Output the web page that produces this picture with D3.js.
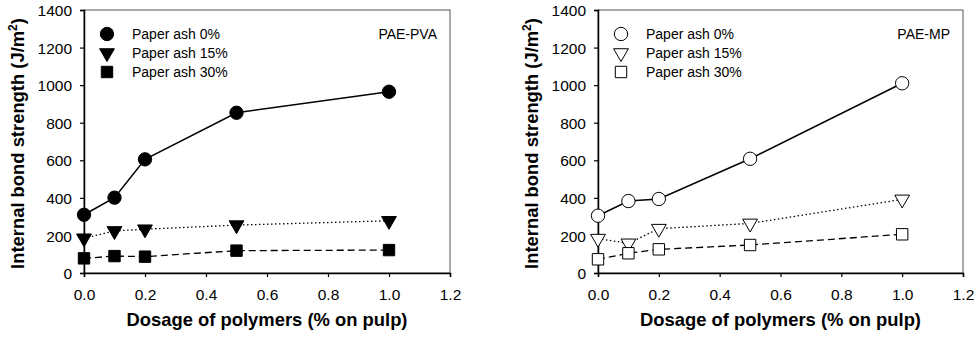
<!DOCTYPE html>
<html>
<head>
<meta charset="utf-8">
<script src="https://cdn.jsdelivr.net/npm/d3@7"></script>
<style>
  body { margin: 0; background: #fff; }
  svg text { font-family: "Liberation Sans", Arial, sans-serif; fill: #000; }
</style>
</head>
<body>
<div id="chart"></div>
<script>
// dosage of polymers (% on pulp)
const dosage = [0, 0.1, 0.2, 0.5, 1.0]
const seriesNames = ['Paper ash 0%', 'Paper ash 15%', 'Paper ash 30%']
const xTicks = [0, 0.2, 0.4, 0.6, 0.8, 1.0, 1.2]
const yTicks = [0, 200, 400, 600, 800, 1000, 1200, 1400]

// PAE-PVA
const pvaAsh0 = [310, 401, 605, 853, 965]
const pvaAsh15 = [185, 224, 233, 255, 278]
const pvaAsh30 = [78, 90, 87, 119, 122]

// PAE-MP
const mpAsh0 = [305, 383, 394, 608, 1010]
const mpAsh15 = [183, 158, 236, 264, 392]
const mpAsh30 = [73, 105, 126, 149, 206]

const width = 979, height = 339
const svg = d3.select('#chart').append('svg')
	.attr('width', width)
	.attr('height', height)

const dashes = [null, '1.5,2.5', '7,4']
const symbols = [d3.symbolCircle, d3.symbolTriangle, d3.symbolSquare]
const symSize = [140, 95, 130]

function drawPanel (left, right, label, series, filled) {
	const top = 10, bottom = 273
	const x = d3.scaleLinear().domain([0, 1.2]).range([left, right])
	const y = d3.scaleLinear().domain([0, 1400]).range([bottom, top])
	const g = svg.append('g')

	// frame
	g.append('rect')
		.attr('x', left).attr('y', top)
		.attr('width', right - left).attr('height', bottom - top)
		.attr('fill', 'none').attr('stroke', '#555').attr('stroke-width', 1)

	// axes
	const xAxis = g.append('g')
		.attr('transform', 'translate(0,' + bottom + ')')
		.call(d3.axisBottom(x).tickValues(xTicks).tickFormat(d3.format('.1f')).tickSize(4).tickPadding(12))
	const yAxis = g.append('g')
		.attr('transform', 'translate(' + left + ',0)')
		.call(d3.axisLeft(y).tickValues(yTicks).tickFormat(d3.format('d')).tickSize(4).tickPadding(8))
	for (const a of [xAxis, yAxis]) {
		a.select('.domain').attr('stroke', '#000').attr('stroke-width', 1.5)
		a.selectAll('.tick line').attr('stroke', '#000').attr('stroke-width', 1.2)
		a.selectAll('.tick text').attr('font-size', '15.5px').attr('fill', '#000')
			.attr('font-family', '"Liberation Sans", Arial, sans-serif')
	}
	yAxis.selectAll('.tick text').attr('dy', '0.36em')

	// axis titles
	g.append('text')
		.attr('x', (left + right) / 2).attr('y', 326)
		.attr('text-anchor', 'middle')
		.attr('font-size', '18.4px').attr('font-weight', 'bold')
		.text('Dosage of polymers (% on pulp)')
	const yt = g.append('text')
		.attr('transform', 'translate(' + (left - 60) + ',' + ((top + bottom) / 2 + 2) + ') rotate(-90)')
		.attr('text-anchor', 'middle')
		.attr('font-size', '18.4px').attr('font-weight', 'bold')
	yt.append('tspan').text('Internal bond strength (J/m')
	yt.append('tspan').attr('font-size', '12px').attr('dy', '-7').text('2')
	yt.append('tspan').attr('dy', '7').text(')')

	g.append('text')
		.attr('x', right - 13).attr('y', 39)
		.attr('text-anchor', 'end')
		.attr('font-size', '14px')
		.text(label)

	// lines + markers
	const line = d3.line().x((d) => x(d[0])).y((d) => y(d[1]))
	series.forEach((vals, i) => {
		const pts = dosage.map((d, j) => [d, vals[j]])
		g.append('path')
			.attr('d', line(pts))
			.attr('fill', 'none')
			.attr('stroke', '#000')
			.attr('stroke-width', i === 0 ? 1.5 : 1.3)
			.attr('stroke-dasharray', dashes[i])
		g.selectAll('.m' + i)
			.data(pts)
			.enter().append('path')
			.attr('transform', (d) => 'translate(' + x(d[0]) + ',' + y(d[1]) + ')' + (i === 1 ? ' rotate(180)' : ''))
			.attr('d', d3.symbol().type(symbols[i]).size(symSize[i]))
			.attr('fill', filled ? '#000' : '#fff')
			.attr('stroke', '#000')
			.attr('stroke-width', 1)
	})

	// legend
	seriesNames.forEach((name, i) => {
		const ly = 34 + i * 19
		g.append('path')
			.attr('transform', 'translate(' + (left + 23) + ',' + ly + ')' + (i === 1 ? ' rotate(180)' : ''))
			.attr('d', d3.symbol().type(symbols[i]).size(symSize[i]))
			.attr('fill', filled ? '#000' : '#fff')
			.attr('stroke', '#000')
		g.append('text')
			.attr('x', left + 48).attr('y', ly + 5)
			.attr('font-size', '14px')
			.text(name)
	})
}

drawPanel(84, 450, 'PAE-PVA', [pvaAsh0, pvaAsh15, pvaAsh30], true)
drawPanel(598, 963, 'PAE-MP', [mpAsh0, mpAsh15, mpAsh30], false)
</script>
</body>
</html>
